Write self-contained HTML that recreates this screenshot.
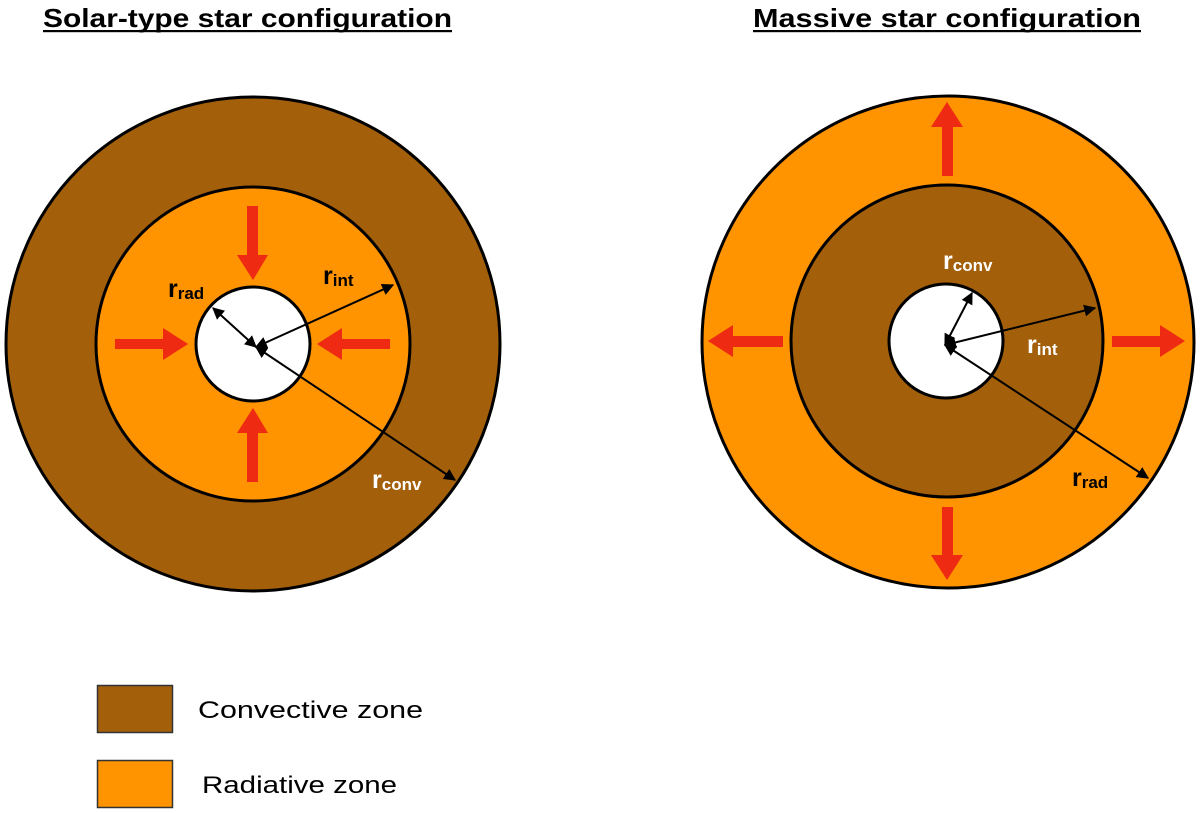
<!DOCTYPE html>
<html><head><meta charset="utf-8"><style>
html,body{margin:0;padding:0;background:#fff;}
svg{display:block;}
text{font-family:"Liberation Sans",Arial,sans-serif;}
</style></head><body>
<svg width="1200" height="813" viewBox="0 0 1200 813" xmlns="http://www.w3.org/2000/svg">
<defs>
<marker id="ah" viewBox="0 0 10 10" refX="9" refY="5" markerWidth="12" markerHeight="12" markerUnits="userSpaceOnUse" orient="auto-start-reverse">
<path d="M0,0 L10,5 L0,10 z" fill="#000"/>
</marker>
</defs>
<!-- Titles -->
<text x="43" y="27" font-size="26" font-weight="bold" textLength="409" lengthAdjust="spacingAndGlyphs">Solar-type star configuration</text>
<rect x="43" y="30" width="409" height="2.2" fill="#000"/>
<text x="753" y="27" font-size="26" font-weight="bold" textLength="388" lengthAdjust="spacingAndGlyphs">Massive star configuration</text>
<rect x="753" y="30" width="388" height="2.2" fill="#000"/>

<!-- Left star -->
<circle cx="253" cy="344" r="247" fill="#A35F0A" stroke="#000" stroke-width="3"/>
<circle cx="253" cy="344" r="157" fill="#FF9300" stroke="#000" stroke-width="3"/>
<circle cx="253" cy="344" r="57" fill="#fff" stroke="#000" stroke-width="3"/>
<g fill="#EE2A12">
<path d="M247,206 H258 V255 H268 L253,280 L237,255 H247 Z"/>
<path d="M247,482 H258 V433 H268 L253,408 L237,433 H247 Z"/>
<path d="M115,339 V349 H163 V360 L188,344 L163,328 V339 Z"/>
<path d="M390,339 V349 H342 V360 L317,344 L342,328 V339 Z"/>
</g>
<g stroke="#000" stroke-width="2" marker-end="url(#ah)" marker-start="url(#ah)">
<line x1="256" y1="347" x2="213" y2="308"/>
<line x1="256" y1="347" x2="393" y2="285"/>
<line x1="256" y1="347" x2="455" y2="480"/>
</g>
<text x="168" y="297" font-size="25" font-weight="bold">r<tspan font-size="17" dy="2">rad</tspan></text>
<text x="323" y="284" font-size="25" font-weight="bold">r<tspan font-size="17" dy="2">int</tspan></text>
<text x="372" y="488" font-size="25" font-weight="bold" fill="#fff">r<tspan font-size="17" dy="2">conv</tspan></text>

<!-- Right star -->
<circle cx="948" cy="342" r="246" fill="#FF9300" stroke="#000" stroke-width="3"/>
<circle cx="947" cy="341" r="156" fill="#A35F0A" stroke="#000" stroke-width="3"/>
<circle cx="946" cy="341" r="57" fill="#fff" stroke="#000" stroke-width="3"/>
<g fill="#EE2A12">
<path d="M942,176 H953 V127 H963 L947,102 L931,127 H942 Z"/>
<path d="M942,507 H953 V555 H963 L947,580 L931,555 H942 Z"/>
<path d="M783,336 V347 H733 V357 L708,341 L733,325 V336 Z"/>
<path d="M1112,336 V347 H1160 V357 L1185,341 L1160,325 V336 Z"/>
</g>
<g stroke="#000" stroke-width="2" marker-end="url(#ah)" marker-start="url(#ah)">
<line x1="945" y1="345" x2="972" y2="293"/>
<line x1="945" y1="345" x2="1095" y2="308"/>
<line x1="945" y1="345" x2="1148" y2="478"/>
</g>
<text x="943" y="269" font-size="25" font-weight="bold" fill="#fff">r<tspan font-size="17" dy="2">conv</tspan></text>
<text x="1027" y="353" font-size="25" font-weight="bold" fill="#fff">r<tspan font-size="17" dy="2">int</tspan></text>
<text x="1072" y="486" font-size="25" font-weight="bold">r<tspan font-size="17" dy="2">rad</tspan></text>

<!-- Legend -->
<rect x="97.5" y="685.5" width="75" height="47" fill="#A35F0A" stroke="#333" stroke-width="1.5"/>
<rect x="97.5" y="760.5" width="75" height="47" fill="#FF9300" stroke="#333" stroke-width="1.5"/>
<text x="198" y="718" font-size="24" textLength="225" lengthAdjust="spacingAndGlyphs">Convective zone</text>
<text x="202" y="793" font-size="24" textLength="195" lengthAdjust="spacingAndGlyphs">Radiative zone</text>
</svg>
</body></html>
